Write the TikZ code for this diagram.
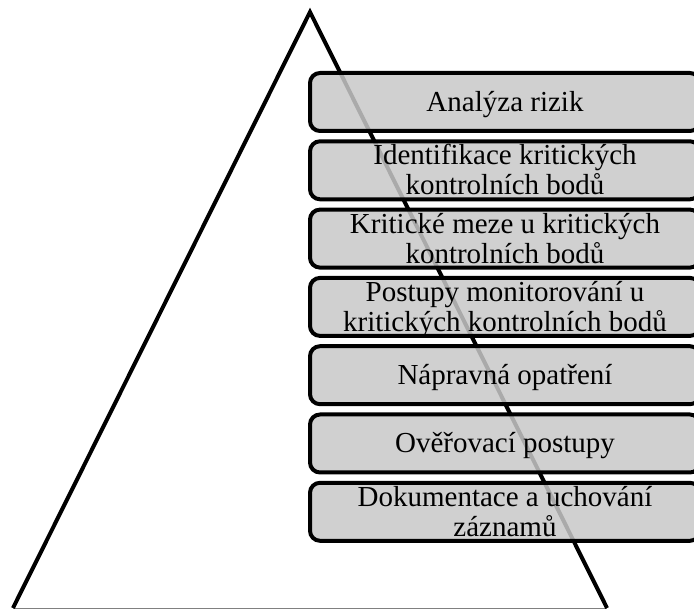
\documentclass[tikz,border=0pt]{standalone}
\usepackage{fontspec}
\setmainfont{Liberation Serif}
\usetikzlibrary{positioning}
\definecolor{boxgray}{RGB}{200,200,200}
\newcommand\stepfont{\fontsize{29}{30}\selectfont\lineskiplimit=-100pt\relax}
\newcommand\stepstrut{\vrule height 26pt depth 7pt width 0pt\relax}
\tikzset{
  pyrline/.style ={line width=4pt, black, line join=miter},
  pyrbase/.style ={line width=1pt, black!50},
  stepbox/.style ={rectangle, rounded corners=10pt, draw=black, line width=4pt,
                   fill=boxgray, fill opacity=0.85, draw opacity=1, text opacity=1,
                   minimum width=390pt, minimum height=58pt,
                   inner xsep=0pt, inner ysep=-4pt,
                   align=center, font=\stepfont},
}
\begin{document}
\begin{tikzpicture}[x=1pt, y=-1pt]
  \useasboundingbox (0,0) rectangle (694,609);
  \clip (0,0) rectangle (694,609);
  % pyramid
  \coordinate (apex) at (310,12);
  \coordinate (left) at (13,608);
  \coordinate (right) at (607,608);
  \draw[pyrbase] (left) -- (right);
  \draw[pyrline] (left) -- (apex) -- (right);
  % steps
  \foreach \i/\txt in {1/Analýza rizik,
                       2/{Identifikace kritických\\kontrolních bodů},
                       3/{Kritické meze u kritických\\kontrolních bodů},
                       4/{Postupy monitorování u\\kritických kontrolních bodů},
                       5/Nápravná opatření,
                       6/Ověřovací postupy,
                       7/{Dokumentace a uchování\\záznamů}} {
    \node[stepbox] (step\i) at (505,{102+68.3*(\i-1)}) {\stepstrut\txt\stepstrut};
  }
\end{tikzpicture}
\end{document}
